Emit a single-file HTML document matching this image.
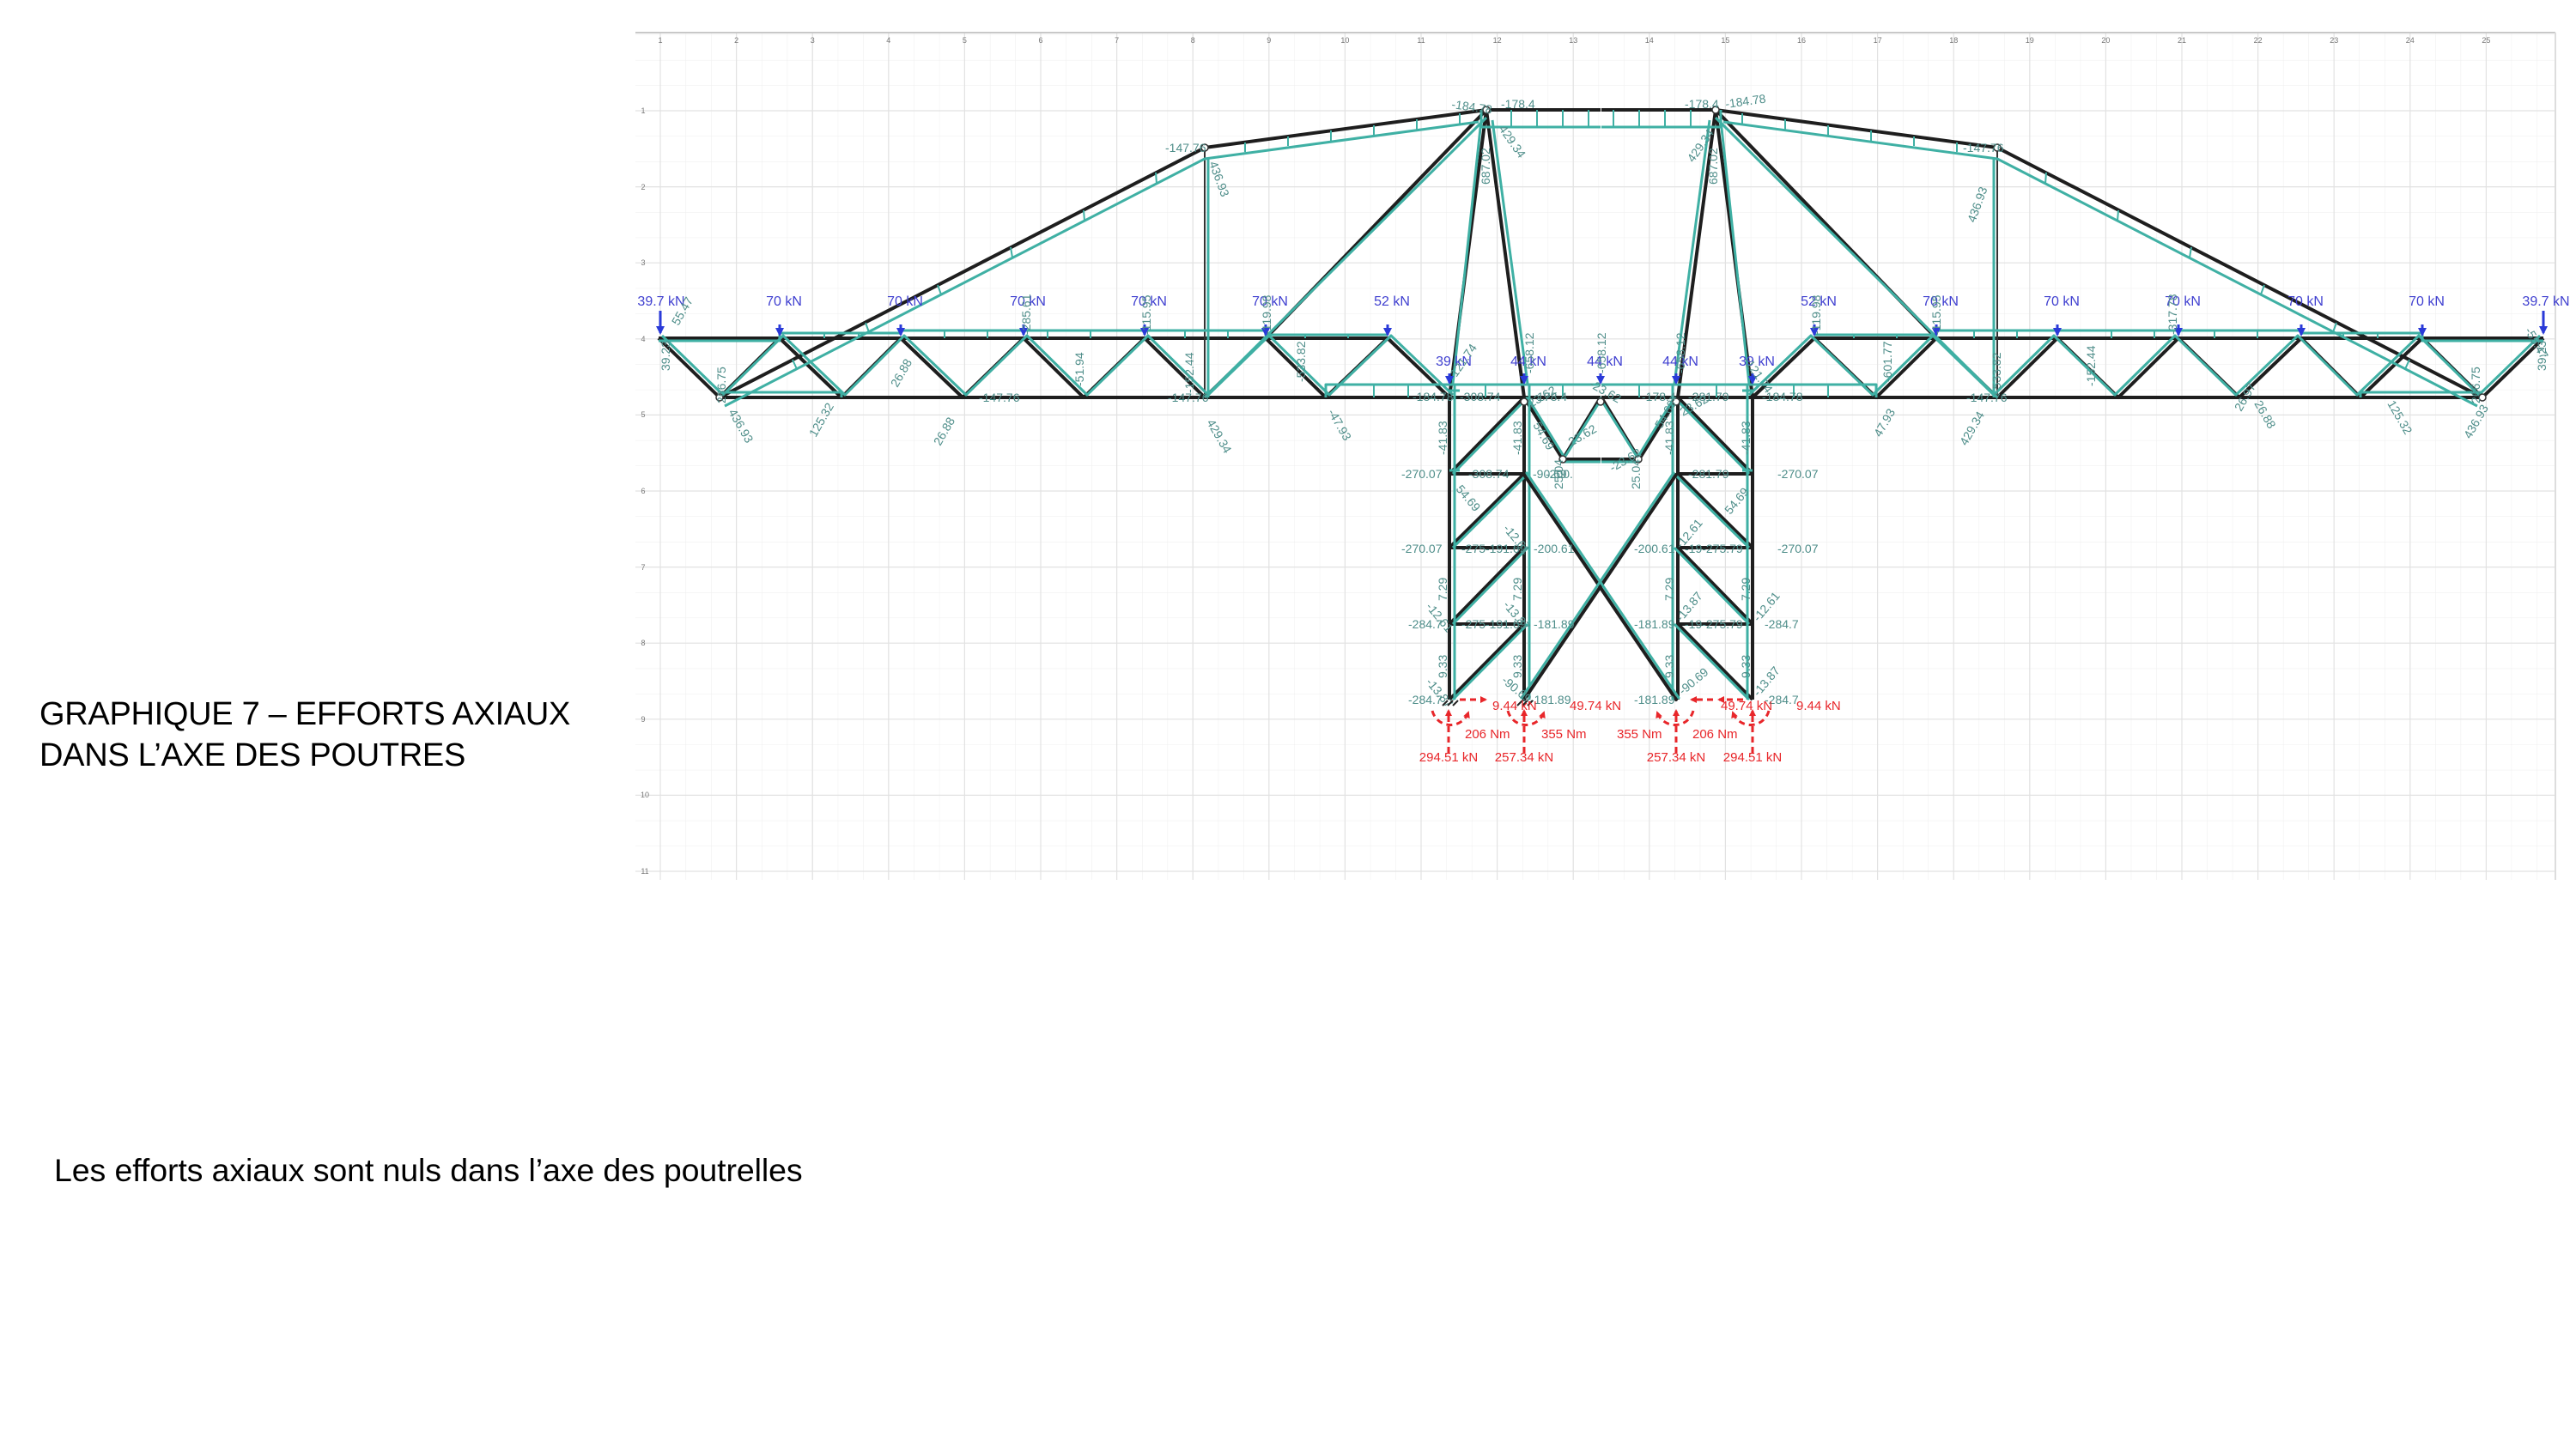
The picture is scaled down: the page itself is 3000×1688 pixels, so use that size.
<!DOCTYPE html>
<html><head><meta charset="utf-8"><style>
html,body{margin:0;padding:0;background:#fff;}
body{width:3000px;height:1688px;position:relative;overflow:hidden;font-family:"Liberation Sans",Arial,sans-serif;}
.t1{position:absolute;left:46px;top:808px;font-size:38px;line-height:48px;color:#000;letter-spacing:-0.3px;}
.t2{position:absolute;left:63px;top:1342px;font-size:37.5px;color:#000;letter-spacing:-0.1px;}
svg{position:absolute;left:0;top:0;}
.ax{font-size:9px;fill:#777;}
.lb{font-size:14px;fill:#4f8e8a;}
.ld{font-size:16px;fill:#4040d0;}
.rd{font-size:15px;fill:#e8262a;}
</style></head><body>
<svg width="3000" height="1688" viewBox="0 0 3000 1688">
<defs>
<pattern id="g" x="769" y="129" width="29.53" height="29.53" patternUnits="userSpaceOnUse">
<path d="M0,0H29.53M0,0V29.53" stroke="#eeeeee" stroke-width="1" fill="none"/>
</pattern>
<marker id="ar" markerWidth="8" markerHeight="8" refX="6" refY="4" orient="auto" markerUnits="userSpaceOnUse"><path d="M0,0L8,4L0,8z" fill="#e8262a"/></marker>
<marker id="ab" markerWidth="10" markerHeight="10" refX="8" refY="5" orient="auto" markerUnits="userSpaceOnUse"><path d="M0,0L10,5L0,10z" fill="#2a3ad8"/></marker>
</defs>
<rect x="740" y="38" width="2236" height="987" fill="url(#g)"/>
<g stroke="#e2e2e2" stroke-width="1.2">
<path d="M769,38V1025M857.6,38V1025M946.2,38V1025M1034.8,38V1025M1123.4,38V1025M1212,38V1025M1300.6,38V1025M1389.2,38V1025M1477.8,38V1025M1566.4,38V1025M1655,38V1025M1743.6,38V1025M1832.2,38V1025M1920.8,38V1025M2009.4,38V1025M2098,38V1025M2186.6,38V1025M2275.2,38V1025M2363.8,38V1025M2452.4,38V1025M2541,38V1025M2629.6,38V1025M2718.2,38V1025M2806.8,38V1025M2895.4,38V1025"/>
<path d="M740,129H2976M740,217.6H2976M740,306.2H2976M740,394.8H2976M740,483.4H2976M740,572H2976M740,660.6H2976M740,749.2H2976M740,837.8H2976M740,926.4H2976M740,1015H2976"/>
</g>
<line x1="740" y1="38" x2="2976" y2="38" stroke="#c8c8c8" stroke-width="2"/>
<line x1="2976" y1="38" x2="2976" y2="1025" stroke="#dddddd" stroke-width="2"/>
<g class="ax" text-anchor="middle">
<text x="769" y="50">1</text><text x="857.6" y="50">2</text><text x="946.2" y="50">3</text><text x="1034.8" y="50">4</text><text x="1123.4" y="50">5</text><text x="1212" y="50">6</text><text x="1300.6" y="50">7</text><text x="1389.2" y="50">8</text><text x="1477.8" y="50">9</text><text x="1566.4" y="50">10</text><text x="1655" y="50">11</text><text x="1743.6" y="50">12</text><text x="1832.2" y="50">13</text><text x="1920.8" y="50">14</text><text x="2009.4" y="50">15</text><text x="2098" y="50">16</text><text x="2186.6" y="50">17</text><text x="2275.2" y="50">18</text><text x="2363.8" y="50">19</text><text x="2452.4" y="50">20</text><text x="2541" y="50">21</text><text x="2629.6" y="50">22</text><text x="2718.2" y="50">23</text><text x="2806.8" y="50">24</text><text x="2895.4" y="50">25</text>
<text x="749" y="132">1</text><text x="749" y="221">2</text><text x="749" y="309">3</text><text x="749" y="398">4</text><text x="749" y="486">5</text><text x="749" y="575">6</text><text x="749" y="664">7</text><text x="749" y="752">8</text><text x="749" y="841">9</text><text x="751" y="929">10</text><text x="751" y="1018">11</text>
</g>

<g id="half">
<g fill="none" stroke="#1e1e1e" stroke-width="4" stroke-linejoin="round">
<path d="M767,394H1616L1688,463"/>
<path d="M838,463H1864"/>
<path d="M767,394L838,463L908,394L980,463L1049,394L1121,463L1192,394L1262,463L1333,394L1403,463L1474,394L1544,463L1616,394"/>
<path d="M838,463L1403,172L1731,128H1864"/>
<path d="M1731,128L1474,394"/>
<path d="M1731,128L1688,463M1731,128L1775,463"/>
<path d="M1688,463V815M1775,463V815"/>
<path d="M1688,552H1775M1688,638H1775M1688,727H1775"/>
<path d="M1688,552L1775,463M1688,638L1775,552M1688,727L1775,638M1688,815L1775,727"/>
<path d="M1775,463L1820,535L1864,463M1820,535H1864"/>
</g>
<path d="M1403,172V463" stroke="#333" stroke-width="2"/>
<g fill="none" stroke="#3fb0a4" stroke-width="3" stroke-linejoin="round">
<path d="M844,473L1403,185L1722,142"/>
<path d="M1725,148H1864M1725,128V148"/>
<path d="M1731,137L1403,463"/>
<path d="M1725,140L1692,447M1738,140L1779,447"/>
<path d="M767,397H908V388H1049V385H1474V390H1616"/>
<path d="M838,457H980V463M1544,463V448H1864"/>
<path d="M771,391L842,460L912,391L984,460L1053,391L1125,460L1196,391L1266,460L1337,391L1407,460L1478,391L1548,460L1620,391L1692,460"/>
<path d="M1694,447V815M1781,447V815M1407,185V463"/>
<path d="M1692,552L1779,463M1692,638L1779,552M1692,727L1779,638M1692,815L1779,727"/>
<path d="M1779,463L1822,533L1866,463M1822,538H1864"/>
<path d="M1688,455H1700M1688,548H1700"/>
</g>
<g stroke="#3fb0a4" stroke-width="2">
<path d="M923,419L928,430M1008,376L1012,387M1092,332L1096,343M1177,288L1179,300M1262,245L1263,257M1346,201L1347,214"/>
<path d="M1450,166L1450,177M1500,159L1500,170M1550,152L1550,164M1600,146L1600,158M1650,139L1650,151M1700,132L1700,145"/>
<path d="M1760,128V148M1790,128V148M1820,128V148M1850,128V148"/>
<path d="M960,388V394M1000,388V394M1100,385V394M1150,385V394M1220,385V394M1270,385V394M1380,385V394M1430,385V394M1520,390V394M1570,390V394"/>
<path d="M1600,448V463M1640,448V463M1730,448V463M1820,448V463"/>
</g>
</g>
<use href="#half" transform="translate(3729,0) scale(-1,1)"/>

<g fill="none" stroke-linecap="round">
<path d="M1775,553L1952,815M1952,553L1775,815" stroke="#1e1e1e" stroke-width="4"/>
<path d="M1778,551L1955,813M1949,551L1772,813" stroke="#3fb0a4" stroke-width="3"/>
</g>
<g fill="#fff" stroke="#333" stroke-width="1.5">
<circle cx="1403" cy="172" r="4"/><circle cx="2326" cy="172" r="4"/>
<circle cx="1731" cy="128" r="4"/><circle cx="1998" cy="128" r="4"/>
<circle cx="1775" cy="468" r="4"/><circle cx="1952" cy="468" r="4"/><circle cx="1864" cy="468" r="4"/>
<circle cx="1820" cy="535" r="4"/><circle cx="1908" cy="535" r="4"/>
<circle cx="838" cy="463" r="4"/><circle cx="2891" cy="463" r="4"/>
</g>

<g stroke="#2a3ad8" stroke-width="3">
<line x1="769" y1="362" x2="769" y2="388" marker-end="url(#ab)"/>
<line x1="2962" y1="362" x2="2962" y2="388" marker-end="url(#ab)"/>
<line x1="908" y1="378" x2="908" y2="390" marker-end="url(#ab)"/><line x1="1049" y1="378" x2="1049" y2="390" marker-end="url(#ab)"/><line x1="1192" y1="378" x2="1192" y2="390" marker-end="url(#ab)"/><line x1="1333" y1="378" x2="1333" y2="390" marker-end="url(#ab)"/><line x1="1474" y1="378" x2="1474" y2="390" marker-end="url(#ab)"/><line x1="1616" y1="378" x2="1616" y2="390" marker-end="url(#ab)"/>
<line x1="2113" y1="378" x2="2113" y2="390" marker-end="url(#ab)"/><line x1="2255" y1="378" x2="2255" y2="390" marker-end="url(#ab)"/><line x1="2396" y1="378" x2="2396" y2="390" marker-end="url(#ab)"/><line x1="2537" y1="378" x2="2537" y2="390" marker-end="url(#ab)"/><line x1="2680" y1="378" x2="2680" y2="390" marker-end="url(#ab)"/><line x1="2821" y1="378" x2="2821" y2="390" marker-end="url(#ab)"/>
<line x1="1688" y1="435" x2="1688" y2="446" marker-end="url(#ab)"/><line x1="1775" y1="435" x2="1775" y2="446" marker-end="url(#ab)"/><line x1="1864" y1="435" x2="1864" y2="446" marker-end="url(#ab)"/><line x1="1952" y1="435" x2="1952" y2="446" marker-end="url(#ab)"/><line x1="2041" y1="435" x2="2041" y2="446" marker-end="url(#ab)"/>
</g>
<g class="ld" text-anchor="middle">
<text x="770" y="356">39.7 kN</text><text x="913" y="356">70 kN</text><text x="1054" y="356">70 kN</text><text x="1197" y="356">70 kN</text><text x="1338" y="356">70 kN</text><text x="1479" y="356">70 kN</text><text x="1621" y="356">52 kN</text>
<text x="2118" y="356">52 kN</text><text x="2260" y="356">70 kN</text><text x="2401" y="356">70 kN</text><text x="2542" y="356">70 kN</text><text x="2685" y="356">70 kN</text><text x="2826" y="356">70 kN</text><text x="2965" y="356">39.7 kN</text>
<text x="1693" y="426">39 kN</text><text x="1780" y="426">44 kN</text><text x="1869" y="426">44 kN</text><text x="1957" y="426">44 kN</text><text x="2046" y="426">39 kN</text>
</g>

<g class="lb">
<text x="1690" y="126" transform="rotate(8 1690 126)">-184.78</text><text x="1748" y="126">-178.4</text>
<text x="1962" y="126">-178.4</text><text x="2010" y="126" transform="rotate(-8 2010 126)">-184.78</text>
<text x="1357" y="177">-147.76</text><text x="2286" y="177">-147.76</text>
<text x="1408" y="190" transform="rotate(70 1408 190)">436.93</text><text x="2300" y="260" transform="rotate(-70 2300 260)">436.93</text>
<text x="1745" y="150" transform="rotate(55 1745 150)">429.34</text><text x="1972" y="190" transform="rotate(-55 1972 190)">429.34</text>
<text x="1735" y="215" transform="rotate(-90 1735 215)">687.02</text><text x="2000" y="215" transform="rotate(-90 2000 215)">687.02</text>
<text x="780" y="432" transform="rotate(-90 780 432)">39.23</text><text x="2965" y="432" transform="rotate(-90 2965 432)">39.23</text>
<text x="790" y="380" transform="rotate(-60 790 380)">55.47</text><text x="2940" y="385" transform="rotate(60 2940 385)">-55.47</text>
<text x="845" y="470" transform="rotate(-90 845 470)">266.75</text><text x="2888" y="470" transform="rotate(-90 2888 470)">266.75</text>
<text x="848" y="480" transform="rotate(60 848 480)">436.93</text><text x="2877" y="512" transform="rotate(-60 2877 512)">436.93</text>
<text x="950" y="510" transform="rotate(-60 950 510)">125.32</text><text x="2780" y="470" transform="rotate(60 2780 470)">125.32</text>
<text x="1045" y="452" transform="rotate(-60 1045 452)">26.88</text><text x="2625" y="470" transform="rotate(60 2625 470)">26.88</text>
<text x="1095" y="520" transform="rotate(-60 1095 520)">26.88</text><text x="2610" y="480" transform="rotate(-60 2610 480)">26.97</text>
<text x="1200" y="390" transform="rotate(-90 1200 390)">-285.61</text><text x="2535" y="390" transform="rotate(-90 2535 390)">-317.78</text>
<text x="1340" y="390" transform="rotate(-90 1340 390)">-115.95</text><text x="2260" y="390" transform="rotate(-90 2260 390)">-115.95</text>
<text x="1480" y="390" transform="rotate(-90 1480 390)">-119.98</text><text x="2120" y="390" transform="rotate(-90 2120 390)">-119.98</text>
<text x="1520" y="445" transform="rotate(-90 1520 445)">-533.82</text><text x="2203" y="445" transform="rotate(-90 2203 445)">-601.77</text>
<text x="1262" y="450" transform="rotate(-90 1262 450)">-51.94</text><text x="2440" y="450" transform="rotate(-90 2440 450)">-152.44</text>
<text x="1390" y="458" transform="rotate(-90 1390 458)">-152.44</text><text x="2330" y="458" transform="rotate(-90 2330 458)">-533.82</text>
<text x="1405" y="492" transform="rotate(60 1405 492)">429.34</text><text x="2290" y="520" transform="rotate(-60 2290 520)">429.34</text>
<text x="1140" y="468">-147.76</text><text x="1360" y="468">-147.76</text><text x="2290" y="468">-147.76</text>
<text x="1546" y="480" transform="rotate(60 1546 480)">-47.93</text><text x="2190" y="510" transform="rotate(-60 2190 510)">47.93</text>
<text x="1645" y="467">-184.78</text><text x="1700" y="467">-308.74</text><text x="1790" y="467">178.4</text>
<text x="1912" y="467">-178.4</text><text x="1966" y="467">-281.79</text><text x="2052" y="467">-184.78</text>
<text x="1696" y="440" transform="rotate(-55 1696 440)">121.74</text><text x="2030" y="420" transform="rotate(55 2030 420)">-121.74</text>
<text x="1786" y="435" transform="rotate(-90 1786 435)">-658.12</text><text x="1870" y="435" transform="rotate(-90 1870 435)">-658.12</text><text x="1962" y="435" transform="rotate(-90 1962 435)">-658.12</text>
<text x="1783" y="475" transform="rotate(-30 1783 475)">23.62</text><text x="1850" y="450" transform="rotate(30 1850 450)">-23.62</text>
<text x="1830" y="520" transform="rotate(-30 1830 520)">23.62</text><text x="1878" y="550" transform="rotate(-30 1878 550)">-23.62</text>
<text x="1960" y="485" transform="rotate(-30 1960 485)">23.62</text><text x="1785" y="495" transform="rotate(60 1785 495)">54.69</text>
<text x="1935" y="500" transform="rotate(-60 1935 500)">54.69</text>
<text x="1820" y="570" transform="rotate(-90 1820 570)">25.04</text><text x="1910" y="570" transform="rotate(-90 1910 570)">25.04</text>
<text x="1685" y="530" transform="rotate(-90 1685 530)">-41.83</text><text x="1772" y="530" transform="rotate(-90 1772 530)">-41.83</text><text x="1949" y="530" transform="rotate(-90 1949 530)">-41.83</text><text x="2038" y="530" transform="rotate(-90 2038 530)">-41.83</text>
<text x="1632" y="557">-270.07</text><text x="1710" y="557">-308.74</text><text x="1785" y="557">-90.69</text><text x="1800" y="557">-200.</text><text x="1966" y="557">-281.79</text><text x="2070" y="557">-270.07</text>
<text x="1695" y="570" transform="rotate(50 1695 570)">54.69</text><text x="2015" y="600" transform="rotate(-50 2015 600)">54.69</text>
<text x="1632" y="644">-270.07</text><text x="1702" y="644">-275-191.69</text><text x="1786" y="644">-200.61</text>
<text x="1903" y="644">-200.61</text><text x="1962" y="644">-19-275.79</text><text x="2070" y="644">-270.07</text>
<text x="1640" y="732">-284.7</text><text x="1702" y="732">-275-191.69</text><text x="1786" y="732">-181.89</text>
<text x="1903" y="732">-181.89</text><text x="1962" y="732">-19-275.79</text><text x="2055" y="732">-284.7</text>
<text x="1640" y="820">-284.7</text><text x="1782" y="820">-181.89</text><text x="1903" y="820">-181.89</text><text x="2055" y="820">-284.7</text>
<text x="1685" y="700" transform="rotate(-90 1685 700)">7.29</text><text x="1772" y="700" transform="rotate(-90 1772 700)">7.29</text><text x="1949" y="700" transform="rotate(-90 1949 700)">7.29</text><text x="2038" y="700" transform="rotate(-90 2038 700)">7.29</text>
<text x="1685" y="790" transform="rotate(-90 1685 790)">9.33</text><text x="1772" y="790" transform="rotate(-90 1772 790)">9.33</text><text x="1949" y="790" transform="rotate(-90 1949 790)">9.33</text><text x="2038" y="790" transform="rotate(-90 2038 790)">9.33</text>
<text x="1660" y="707" transform="rotate(50 1660 707)">-12.61</text><text x="1750" y="616" transform="rotate(50 1750 616)">-12.61</text><text x="1958" y="640" transform="rotate(-50 1958 640)">-12.61</text><text x="2048" y="725" transform="rotate(-50 2048 725)">-12.61</text>
<text x="1660" y="795" transform="rotate(50 1660 795)">-13.87</text><text x="1750" y="705" transform="rotate(50 1750 705)">-13.87</text><text x="1958" y="725" transform="rotate(-50 1958 725)">-13.87</text><text x="2048" y="812" transform="rotate(-50 2048 812)">-13.87</text>
<text x="1748" y="794" transform="rotate(40 1748 794)">-90.69</text><text x="1960" y="810" transform="rotate(-40 1960 810)">-90.69</text>
</g>

<g stroke="#222" stroke-width="2">
<path d="M1680,822l6,-6M1686,822l6,-6M1692,822l6,-6M1767,822l6,-6M1773,822l6,-6M1779,822l6,-6"/>
</g>
<g fill="none" stroke="#e8262a" stroke-width="3" stroke-dasharray="7,5">
<path d="M1700,815H1730" marker-end="url(#ar)"/>
<path d="M2030,815H2002" marker-end="url(#ar)"/>
<path d="M1995,815H1970" marker-end="url(#ar)"/>
<path d="M1687,877V828" marker-end="url(#ar)"/><path d="M1775,877V828" marker-end="url(#ar)"/><path d="M1952,877V828" marker-end="url(#ar)"/><path d="M2041,877V828" marker-end="url(#ar)"/>
<path d="M1668,828A22,22 0 0 0 1710,830" marker-end="url(#ar)"/>
<path d="M1756,828A22,22 0 0 0 1798,830" marker-end="url(#ar)"/>
<path d="M1972,828A22,22 0 0 1 1930,830" marker-end="url(#ar)"/>
<path d="M2060,828A22,22 0 0 1 2018,830" marker-end="url(#ar)"/>
</g>
<g class="rd">
<text x="1738" y="827">9.44 kN</text><text x="1828" y="827">49.74 kN</text>
<text x="2004" y="827">49.74 kN</text><text x="2092" y="827">9.44 kN</text>
<text x="1706" y="860">206 Nm</text><text x="1795" y="860">355 Nm</text>
<text x="1883" y="860">355 Nm</text><text x="1971" y="860">206 Nm</text>
<g text-anchor="middle"><text x="1687" y="887">294.51 kN</text><text x="1775" y="887">257.34 kN</text><text x="1952" y="887">257.34 kN</text><text x="2041" y="887">294.51 kN</text></g>
</g>
</svg>
<div class="t1">GRAPHIQUE 7 – EFFORTS AXIAUX<br>DANS L’AXE DES POUTRES</div>
<div class="t2">Les efforts axiaux sont nuls dans l’axe des poutrelles</div>
</body></html>
